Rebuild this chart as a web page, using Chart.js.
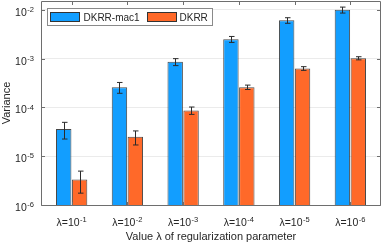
<!DOCTYPE html>
<html>
<head>
<meta charset="utf-8">
<script src="https://cdn.jsdelivr.net/npm/chart.js@4.4.1/dist/chart.umd.min.js"></script>
<style>
  html, body { margin: 0; padding: 0; background: #fff; }
  .wrap { width: 382px; height: 243px; }
</style>
</head>
<body>
<div class="wrap"><canvas id="chart"></canvas></div>
<script>
// data
const categories = ["λ=10^-1", "λ=10^-2", "λ=10^-3", "λ=10^-4", "λ=10^-5", "λ=10^-6"];
const seriesNames = ["DKRR-mac1", "DKRR"];
const mac1Variance = [3.6e-5, 2.6e-4, 8.6e-4, 2.5e-3, 6.1e-3, 1.0e-2];
const mac1Err = [1.35e-5, 6.5e-5, 1.4e-4, 3.5e-4, 8e-4, 1.4e-3];
const dkrrVariance = [3.35e-6, 2.5e-5, 8.7e-5, 2.6e-4, 6.3e-4, 1.02e-3];
const dkrrErr = [1.6e-6, 8e-6, 1.5e-5, 2.7e-5, 5.5e-5, 7.5e-5];
const yTicks = [1e-6, 1e-5, 1e-4, 1e-3, 1e-2];
const yTickLabels = ["10^-6", "10^-5", "10^-4", "10^-3", "10^-2"];
const xTitle = "Value λ of regularization parameter";
const yTitle = "Variance";

const FONT = '"Liberation Sans", Arial, sans-serif';
const BLUE = "#129EFF";
const ORANGE = "#FF6929";
const AXIS = "#6e6e6e";
const TEXT = "#262626";

// draws "10^-3" style labels with a raised exponent
function drawPow(ctx, label, x, y, align, size) {
  const [base, exp] = label.split("^");
  const supSize = size * 0.72;
  ctx.font = size + "px " + FONT;
  const wb = ctx.measureText(base).width;
  ctx.font = supSize + "px " + FONT;
  const we = ctx.measureText(exp).width;
  const total = wb + we + 0.5;
  let x0 = x;
  if (align === "right") x0 = x - total;
  if (align === "center") x0 = x - total / 2;
  ctx.textAlign = "left";
  ctx.textBaseline = "alphabetic";
  ctx.font = size + "px " + FONT;
  ctx.fillText(base, x0, y);
  ctx.font = supSize + "px " + FONT;
  ctx.fillText(exp, x0 + wb + 0.5, y - size * 0.36);
}

const matlabAxes = {
  id: "matlabAxes",
  afterDatasetsDraw(chart) {
    const { ctx, chartArea: a, scales } = chart;
    const xs = scales.x, ys = scales.y;
    ctx.save();

    // error bars
    [[mac1Variance, mac1Err], [dkrrVariance, dkrrErr]].forEach(([vals, errs], di) => {
      const meta = chart.getDatasetMeta(di);
      ctx.strokeStyle = "#2b2b2b";
      ctx.lineWidth = 1;
      meta.data.forEach((bar, i) => {
        const x = Math.round(bar.x) + 0.5;
        const yt = ys.getPixelForValue(vals[i] + errs[i]);
        const yb = ys.getPixelForValue(vals[i] - errs[i]);
        ctx.beginPath();
        ctx.moveTo(x, yt); ctx.lineTo(x, yb);
        ctx.moveTo(x - 2.5, yt); ctx.lineTo(x + 3, yt);
        ctx.moveTo(x - 2.5, yb); ctx.lineTo(x + 3, yb);
        ctx.stroke();
      });
    });

    // box and inward ticks
    const L = a.left + 0.5, R = a.right - 0.5, T = a.top + 0.5, B = a.bottom + 0.5;
    ctx.strokeStyle = AXIS;
    ctx.lineWidth = 1;
    ctx.beginPath();
    ctx.moveTo(L, T); ctx.lineTo(R, T); ctx.lineTo(R, B); ctx.lineTo(L, B); ctx.closePath();
    yTicks.forEach(v => {
      const y = Math.round(ys.getPixelForValue(v)) + 0.5;
      ctx.moveTo(L, y); ctx.lineTo(L + 3.5, y);
      ctx.moveTo(R, y); ctx.lineTo(R - 3.5, y);
    });
    categories.forEach((c, i) => {
      const x = Math.round(xs.getPixelForValue(i + 1)) + 0.5;
      ctx.moveTo(x, T); ctx.lineTo(x, T + 3.5);
      ctx.moveTo(x, B); ctx.lineTo(x, B - 3.5);
    });
    ctx.stroke();

    // tick labels
    ctx.fillStyle = TEXT;
    yTicks.forEach((v, i) => {
      const y = ys.getPixelForValue(v);
      drawPow(ctx, yTickLabels[i], a.left - 7, y + 6, "right", 10.5);
    });
    categories.forEach((c, i) => {
      const x = xs.getPixelForValue(i + 1);
      drawPow(ctx, c, x, 225.5, "center", 10.5);
    });

    // axis titles
    ctx.font = "11px " + FONT;
    ctx.textAlign = "center";
    ctx.textBaseline = "alphabetic";
    ctx.fillText(xTitle, (a.left + a.right) / 2, 239.5);
    ctx.save();
    ctx.translate(10, (a.top + a.bottom) / 2);
    ctx.rotate(-Math.PI / 2);
    ctx.fillText(yTitle, 0, 0);
    ctx.restore();

    // legend box inside the axes
    ctx.fillStyle = "#fff";
    ctx.fillRect(47.5, 8.5, 165, 17);
    ctx.strokeStyle = "#8a8a8a";
    ctx.strokeRect(47.5, 8.5, 165, 17);
    const entries = [[seriesNames[0], BLUE, 50, 83.5], [seriesNames[1], ORANGE, 147, 179.5]];
    entries.forEach(([name, col, sx, tx]) => {
      ctx.fillStyle = col;
      ctx.fillRect(sx, 12, 30, 10);
      ctx.strokeStyle = "#333";
      ctx.strokeRect(sx + 0.5, 12.5, 29, 9);
      ctx.fillStyle = TEXT;
      ctx.font = "10px " + FONT;
      ctx.textAlign = "left";
      ctx.fillText(name, tx, 21.3);
    });

    ctx.restore();
  }
};

new Chart(document.getElementById("chart"), {
  type: "bar",
  data: {
    datasets: [
      {
        label: seriesNames[0],
        data: mac1Variance.map((v, i) => ({ x: i + 1, y: v })),
        backgroundColor: BLUE,
        borderColor: "rgba(40,40,40,0.85)",
        borderWidth: 1,
        barPercentage: 0.97,
        categoryPercentage: 0.57,
      },
      {
        label: seriesNames[1],
        data: dkrrVariance.map((v, i) => ({ x: i + 1, y: v })),
        backgroundColor: ORANGE,
        borderColor: "rgba(40,40,40,0.85)",
        borderWidth: 1,
        barPercentage: 0.97,
        categoryPercentage: 0.57,
      },
    ],
  },
  options: {
    responsive: true,
    maintainAspectRatio: false,
    animation: false,
    layout: { padding: { top: 1, right: 1, left: 0, bottom: 0 } },
    plugins: {
      legend: { display: false },
      tooltip: { enabled: false },
    },
    scales: {
      x: {
        type: "linear",
        offset: false,
        min: 0.45,
        max: 6.55,
        grid: { display: false, offset: false },
        border: { display: false },
        ticks: { display: false },
        afterFit: (s) => { s.height = 38; },
      },
      y: {
        type: "logarithmic",
        min: 1e-6,
        max: 0.0152,
        afterBuildTicks: (s) => { s.ticks = yTicks.map(v => ({ value: v })); },
        grid: { color: "#ebebeb", drawTicks: false },
        border: { display: false },
        ticks: { display: false },
        afterFit: (s) => { s.width = 41; },
      },
    },
  },
  plugins: [matlabAxes],
});
</script>
</body>
</html>
